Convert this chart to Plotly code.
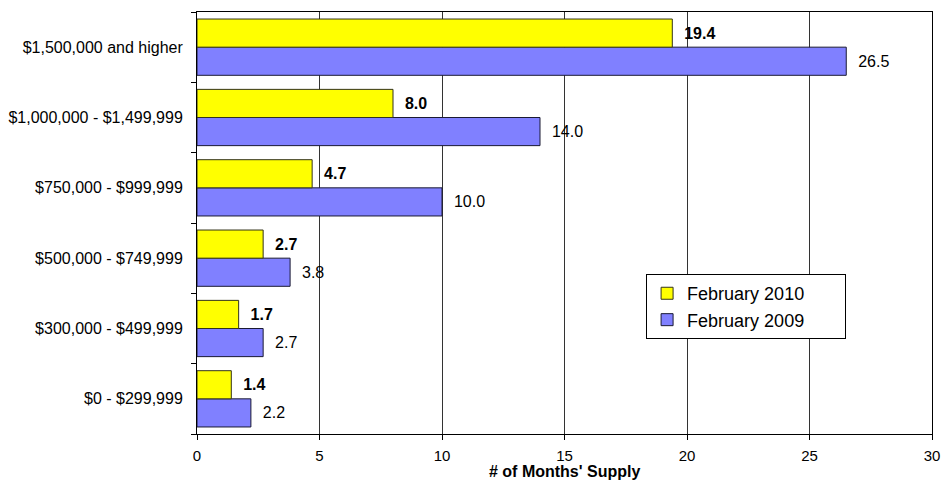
import plotly.graph_objects as go

# Price ranges, bottom to top
price_ranges = [
    "$0 - $299,999",
    "$300,000 - $499,999",
    "$500,000 - $749,999",
    "$750,000 - $999,999",
    "$1,000,000 - $1,499,999",
    "$1,500,000 and higher",
]
supply_feb_2010 = [1.4, 1.7, 2.7, 4.7, 8.0, 19.4]
supply_feb_2009 = [2.2, 2.7, 3.8, 10.0, 14.0, 26.5]
x_ticks = [0, 5, 10, 15, 20, 25, 30]

FONT = "Liberation Sans, Arial, sans-serif"
PAD = "\u00a0\u00a0"
LEGEND_PAD = "\u00a0" * 7

fig = go.Figure()

# 2009 added first so it sits below the 2010 bar in each group
fig.add_trace(go.Bar(
    name="February 2009" + LEGEND_PAD,
    y=price_ranges,
    x=supply_feb_2009,
    orientation="h",
    marker=dict(color="#8080FF", line=dict(color="#1a1a33", width=1)),
    text=supply_feb_2009,
    texttemplate=PAD + "%{x:.1f}",
    textposition="outside",
    constraintext="none",
    textfont=dict(family=FONT, size=16, color="black"),
    cliponaxis=False,
))
fig.add_trace(go.Bar(
    name="February 2010" + LEGEND_PAD,
    y=price_ranges,
    x=supply_feb_2010,
    orientation="h",
    marker=dict(color="#FFFF00", line=dict(color="#33331a", width=1)),
    text=supply_feb_2010,
    texttemplate=PAD + "%{x:.1f}",
    textposition="outside",
    constraintext="none",
    textfont=dict(family=FONT, size=16, color="black", weight="bold"),
    cliponaxis=False,
))

fig.update_layout(
    width=941,
    height=483,
    margin=dict(l=197, r=9, t=12, b=49),
    paper_bgcolor="white",
    plot_bgcolor="white",
    barmode="group",
    bargap=0.2,
    bargroupgap=0,
    font=dict(family=FONT, size=16, color="black"),
    showlegend=True,
    legend=dict(
        x=0.611, y=0.379, xanchor="left", yanchor="top",
        traceorder="reversed",
        bgcolor="white",
        bordercolor="black",
        borderwidth=1,
        font=dict(family=FONT, size=18, color="black"),
        itemwidth=30,
    ),
    xaxis=dict(
        range=[0, 30],
        tickvals=x_ticks,
        ticktext=[str(v) for v in x_ticks],
        showgrid=True,
        gridcolor="#333333",
        gridwidth=1,
        showline=True,
        linecolor="black",
        linewidth=1,
        mirror=True,
        ticks="outside",
        ticklen=5,
        tickcolor="black",
        zeroline=False,
        automargin=False,
        ticklabelstandoff=3,
        tickfont=dict(family=FONT, size=15, color="black"),
    ),
    yaxis=dict(
        type="category",
        categoryorder="array",
        categoryarray=price_ranges,
        showgrid=False,
        showline=True,
        linecolor="black",
        linewidth=1,
        mirror=True,
        ticks="outside",
        tickson="boundaries",
        ticklen=5,
        tickcolor="black",
        ticklabelstandoff=10,
        automargin=False,
        tickfont=dict(family=FONT, size=16, color="black"),
    ),
    annotations=[
        dict(
            text="<b># of Months' Supply</b>",
            xref="paper", yref="paper",
            x=0.5, y=-0.113,
            xanchor="center", yanchor="bottom",
            showarrow=False,
            font=dict(family=FONT, size=16, color="black"),
        )
    ],
)

fig.write_html("out.html")
